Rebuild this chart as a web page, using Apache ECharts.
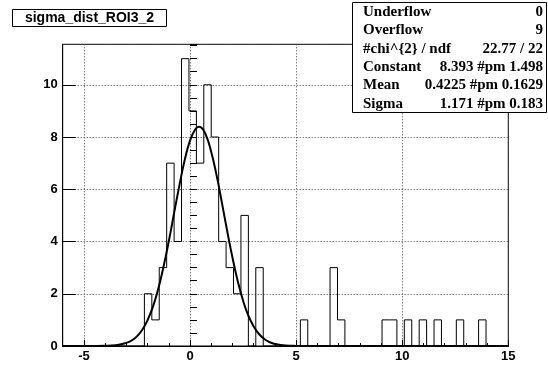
<!DOCTYPE html>
<html><head><meta charset="utf-8">
<script src="https://cdn.jsdelivr.net/npm/echarts@6/dist/echarts.min.js"></script>
<style>html,body{margin:0;padding:0;background:#fff}#c{width:548px;height:367px}</style>
</head><body><div id="c"></div>
<script>
// histogram: 60 bins from -6 to 15
const binLow = -6;
const binWidth = 0.35;
const counts = [0,0,0,0,0,0,0,0,0,0,0,
  2,1,3,7,4,11,9,7,10,8,4,3,2,5,0,3,
  0,0,0,0,0,
  1,
  0,0,0,
  3,1,
  0,0,0,0,0,
  1,1,0,1,0,1,0,1,0,0,1,0,0,1,0,0,0];
// gaussian fit curve
const fitX = [-6,-5,-4.5,-4,-3.5,-3,-2.75,-2.5,-2.25,-2,-1.75,-1.5,-1.25,-1,-0.75,-0.5,-0.25,0,0.25,0.42,0.5,0.75,1,1.25,1.5,1.75,2,2.25,2.5,2.75,3,3.25,3.5,3.75,4,4.5,5,5.5,6,15];
const fitY = [0,0,0.001,0.007,0.03,0.12,0.21,0.37,0.62,0.99,1.50,2.18,3.03,4.01,5.09,6.15,7.12,7.86,8.30,8.39,8.38,8.07,7.43,6.54,5.50,4.41,3.39,2.48,1.74,1.16,0.75,0.46,0.27,0.15,0.08,0.02,0.004,0.001,0,0];
const xTickLabels = [-5,0,5,10,15];
const yTickLabels = [0,2,4,6,8,10];
const title = 'sigma_dist_ROI3_2';
const statNames = ['Underflow','Overflow','#chi^{2} / ndf','Constant','Mean','Sigma'];
const statValues = ['0','9','22.77 / 22','8.393 #pm 1.498','0.4225 #pm 0.1629','1.171 #pm 0.183'];

const histData = counts.map((c, k) => [binLow + k * binWidth, c]);
histData.push([binLow + counts.length * binWidth, 0]);
const fitData = fitX.map((x, i) => [x, fitY[i]]);

const chart = echarts.init(document.getElementById('c'), null, {renderer: 'canvas'});
const lblFont = {fontFamily: 'Liberation Sans', fontWeight: 'bold', fontSize: 13, color: '#000'};
const graphics = [];
graphics.push({type: 'rect', shape: {x: 12.5, y: 9.5, width: 154, height: 17}, style: {fill: '#fff', stroke: '#000', lineWidth: 1}, z: 100});
graphics.push({type: 'text', x: 89.5, y: 18.5, style: {text: title, font: 'bold 14px "Liberation Sans"', fill: '#000', textAlign: 'center', textVerticalAlign: 'middle'}, z: 101});
graphics.push({type: 'rect', shape: {x: 352.5, y: 2.5, width: 194, height: 110}, style: {fill: '#fff', stroke: '#000', lineWidth: 1}, z: 100});
statNames.forEach((n, i) => {
  graphics.push({type: 'text', x: 363, y: 12 + 18.4 * i, style: {text: n, font: 'bold 15px "Liberation Serif"', fill: '#000', textAlign: 'left', textVerticalAlign: 'middle'}, z: 101});
  graphics.push({type: 'text', x: 543, y: 12 + 18.4 * i, style: {text: statValues[i], font: 'bold 15px "Liberation Serif"', fill: '#000', textAlign: 'right', textVerticalAlign: 'middle'}, z: 101});
});

chart.setOption({
  animation: false,
  backgroundColor: '#fff',
  grid: {left: 62.7, right: 39.7, top: 44.3, bottom: 21, show: true, borderColor: '#000', borderWidth: 1, backgroundColor: 'transparent'},
  xAxis: [{
    type: 'value', min: -6, max: 15, position: 'bottom',
    axisLine: {show: true, onZero: false, lineStyle: {color: '#000', width: 1}},
    axisTick: {show: true, inside: true, length: 6, lineStyle: {color: '#000'}},
    axisLabel: Object.assign({margin: 4, formatter: v => xTickLabels.indexOf(v) >= 0 ? String(v) : ''}, lblFont),
    splitLine: {show: true, lineStyle: {color: '#444', type: [1, 2], width: 1}}
  }, {
    type: 'value', min: -6, max: 15, interval: 1, position: 'bottom',
    axisLine: {show: false}, axisLabel: {show: false}, splitLine: {show: false},
    axisTick: {show: true, inside: true, length: 3, lineStyle: {color: '#000'}}
  }],
  yAxis: [{
    type: 'value', min: 0, max: 11.55, interval: 2, position: 'left',
    axisLine: {show: true, onZero: false, lineStyle: {color: '#000', width: 1}},
    axisTick: {show: true, inside: true, length: 13, lineStyle: {color: '#000'}},
    axisLabel: Object.assign({margin: 5, showMaxLabel: false, formatter: v => yTickLabels.indexOf(v) >= 0 ? String(v) : ''}, lblFont),
    splitLine: {show: true, lineStyle: {color: '#444', type: [1, 2], width: 1}}
  }, {
    type: 'value', min: 0, max: 11.55, interval: 0.5, position: 'left',
    axisLine: {show: false}, axisLabel: {show: false}, splitLine: {show: false},
    axisTick: {show: true, inside: true, length: 7, lineStyle: {color: '#000'}}
  }],
  series: [{
    type: 'line', xAxisIndex: 0, yAxisIndex: 0, data: histData, step: 'end', symbol: 'none',
    lineStyle: {color: '#000', width: 1}, z: 3
  }, {
    type: 'line', xAxisIndex: 0, yAxisIndex: 0, data: fitData, smooth: true, symbol: 'none',
    lineStyle: {color: '#000', width: 2}, z: 4
  }],
  graphic: graphics
});
</script></body></html>
